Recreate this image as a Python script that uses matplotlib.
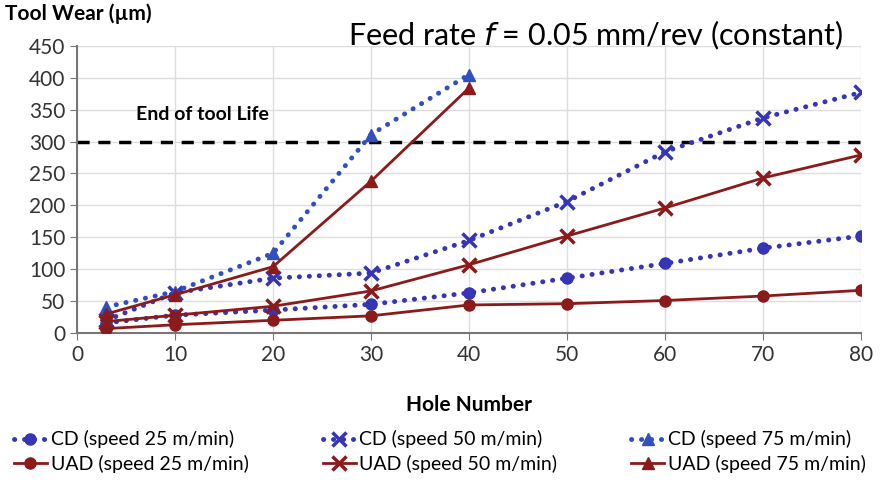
import matplotlib.pyplot as plt
import numpy as np

plt.rcParams['font.family'] = ['Lato', 'DejaVu Sans']

holes = [3, 10, 20, 30, 40, 50, 60, 70, 80]
holes_75 = [3, 10, 20, 30, 40]

cd_25 = [16, 28, 36, 45, 63, 86, 109, 133, 152]
uad_25 = [7, 13, 20, 27, 44, 46, 51, 58, 67]
cd_50 = [20, 63, 86, 94, 145, 206, 284, 337, 377]
uad_50 = [18, 28, 42, 66, 107, 152, 196, 243, 279]
cd_75 = [41, 65, 125, 311, 405]
uad_75 = [30, 60, 104, 238, 384]

tool_life = 300

blue = "#3535b5"
blue_tri = "#3050c0"
red = "#8b1a1a"
dots = (0, (0.05, 2.0))

fig = plt.figure(figsize=(8.8, 4.82), dpi=100)
ax = fig.add_axes([0.0875, 0.309, 0.891, 0.596])

ax.axhline(tool_life, color="black", lw=2.5, ls=(0, (3.5, 2.5)), zorder=2)

cd_kw = dict(ls=dots, lw=3.5, dash_capstyle="round", zorder=3)
uad_kw = dict(ls="-", lw=2, color=red, zorder=3)
ax.plot(holes, cd_25, color=blue, marker="o", ms=8, label="CD (speed 25 m/min)", **cd_kw)
ax.plot(holes, uad_25, marker="o", ms=8, label="UAD (speed 25 m/min)", **uad_kw)
ax.plot(holes, cd_50, color=blue, marker="x", ms=10, mew=2.5, label="CD (speed 50 m/min)", **cd_kw)
ax.plot(holes, uad_50, marker="x", ms=10, mew=2.5, label="UAD (speed 50 m/min)", **uad_kw)
ax.plot(holes_75, cd_75, color=blue_tri, marker="^", ms=9, label="CD (speed 75 m/min)", **cd_kw)
ax.plot(holes_75, uad_75, marker="^", ms=9, label="UAD (speed 75 m/min)", **uad_kw)

ax.text(6, 342, "End of tool Life", fontsize=14, fontweight="bold", va="center")

ax.set_xlim(0, 80)
ax.set_ylim(0, 450)
ax.set_xticks(np.arange(0, 81, 10))
ax.set_yticks(np.arange(0, 451, 50))
ax.tick_params(labelsize=15, colors="#333333", length=5, color="#777777")
ax.grid(True, color="#dddddd", lw=1)
ax.set_axisbelow(True)
for s in ["top", "right"]:
    ax.spines[s].set_visible(False)
for s in ["left", "bottom"]:
    ax.spines[s].set_color("#777777")
    ax.spines[s].set_linewidth(1.5)

ax.set_xlabel("Hole Number", fontsize=15, fontweight="bold", labelpad=22)
fig.text(0.006, 0.972, "Tool Wear (\u00b5m)", fontsize=15, fontweight="bold", va="center")
fig.text(0.395, 0.927, "Feed rate $f$ = 0.05 mm/rev (constant)", fontsize=22, va="center")

fig.legend(loc="lower center", bbox_to_anchor=(0.5, -0.018), ncol=3, frameon=False,
           fontsize=14, handlelength=1.7, columnspacing=3.8, labelspacing=0.35, handletextpad=0.2)

plt.savefig("out.png", dpi=100)
